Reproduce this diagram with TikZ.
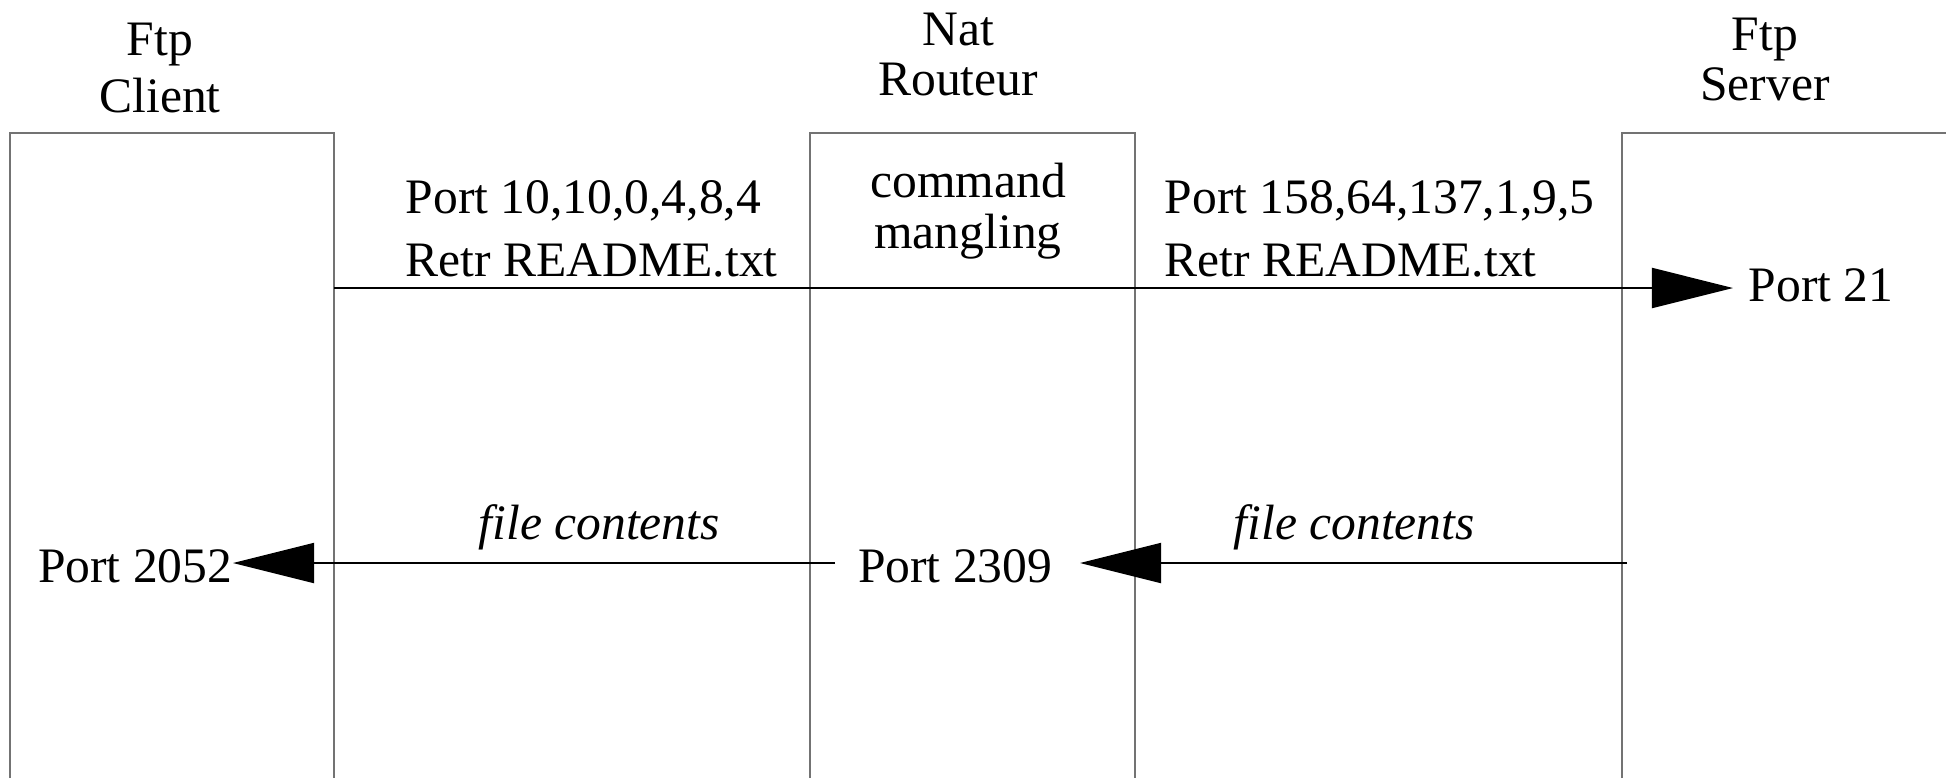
\documentclass[tikz,border=0pt]{standalone}
\usepackage{fontspec}
\setmainfont{Liberation Serif}
\usetikzlibrary{arrows.meta}

\begin{document}
\begin{tikzpicture}[x=0.01cm,y=-0.01cm,
  every node/.style={inner sep=0pt,font=\fontsize{14.1}{15}\selectfont},
  caja/.style={draw=black!55,line width=0.5pt},
  flecha/.style={draw=black,line width=0.55pt,-{Triangle[length=0.81cm,width=0.40cm]}}]
  \useasboundingbox (0,0) rectangle (1946,778);

  % Cajas
  \foreach \xa/\xb in {10/334, 810/1135}
    \draw[caja] (\xa,778) -- (\xa,133) -- (\xb,133) -- (\xb,778);
  \draw[caja] (1622,778) -- (1622,133) -- (1946,133);

  % Títulos
  \node[align=center,anchor=base] (cli) at (160,112) {Ftp\\[1.2pt]Client};
  \node[align=center,anchor=base] (rou) at (958,95) {Nat\\[-0.8pt]Routeur};
  \node[align=center,anchor=base] (ser) at (1765,100) {Ftp\\[-0.8pt]Server};

  % Textos
  \node[align=center,anchor=base] (cmd) at (968,248) {command\\[-0.5pt]mangling};
  \node[align=left,anchor=base west] (m1) at (405,276) {Port 10,10,0,4,8,4\\[2.9pt]Retr README.txt};
  \node[align=left,anchor=base west] (m2) at (1164,276) {Port 158,64,137,1,9,5\\[2.9pt]Retr README.txt};
  \node[anchor=base west,font=\fontsize{14.1}{15}\selectfont\itshape] (f1) at (478,539) {file contents};
  \node[anchor=base west,font=\fontsize{14.1}{15}\selectfont\itshape] (f2) at (1233,539) {file contents};

  % Puertos
  \node[anchor=base west,inner xsep=0.15cm] (p21) at (1733,301) {Port 21};
  \node[anchor=base east] (p2052) at (233,582) {Port 2052};
  \node[anchor=base east,inner xsep=0.27cm] (p2309) at (1080,582) {Port 2309};

  % Flechas
  \coordinate (a1) at (334,288);
  \coordinate (b1) at (835,563);
  \coordinate (b2) at (1627,563);
  \draw[flecha] (a1) -- (a1 -| p21.west);
  \draw[flecha] (b1) -- (b1 -| p2052.east);
  \draw[flecha] (b2) -- (b2 -| p2309.east);
\end{tikzpicture}
\end{document}
